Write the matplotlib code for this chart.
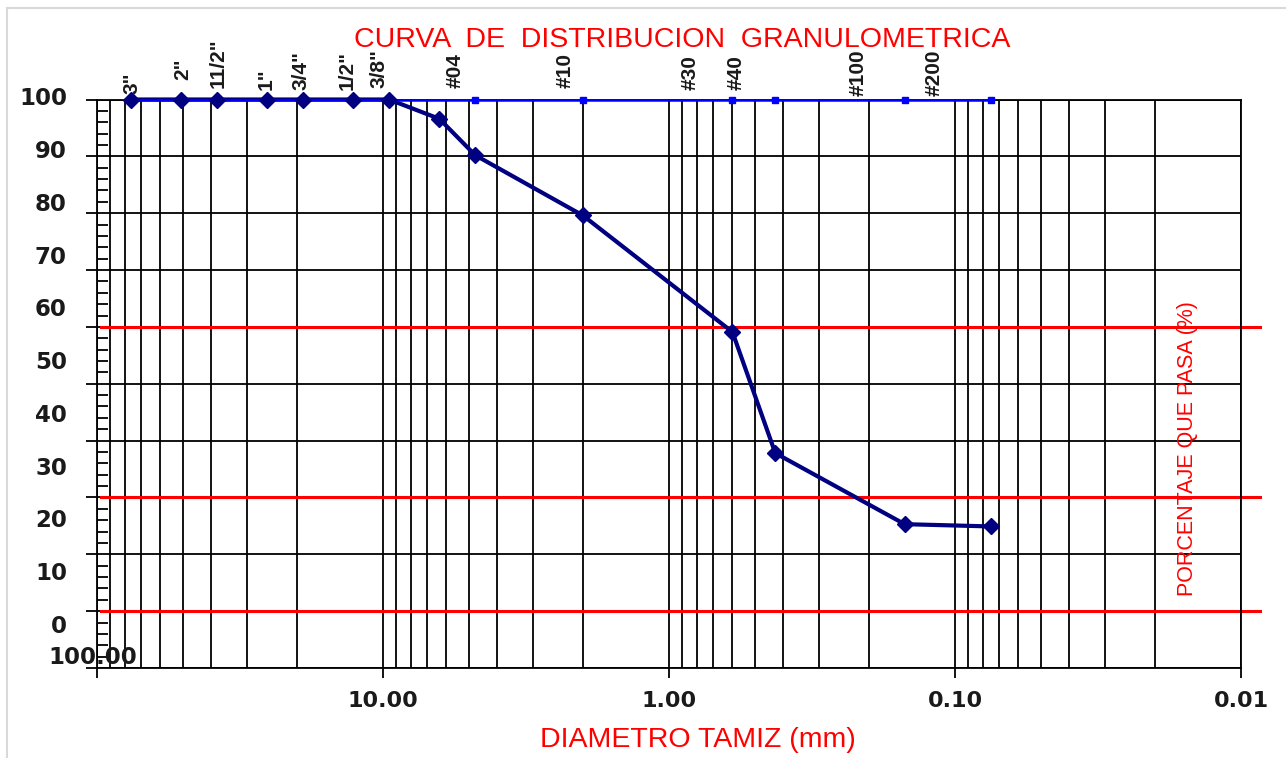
import matplotlib
matplotlib.use("Agg")
import matplotlib.pyplot as plt
from matplotlib import font_manager as fm
from matplotlib.lines import Line2D
from matplotlib.transforms import blended_transform_factory
from matplotlib.ticker import FixedLocator, LogLocator, MultipleLocator, NullFormatter, FixedFormatter

# ---------------- data ----------------
sieve_mm = [76.2, 50.8, 38.1, 25.4, 19.05, 12.7, 9.525, 6.35, 4.76, 2.00, 0.600, 0.425, 0.150, 0.075]
pct_pass = [100, 100, 100, 100, 100, 100, 100, 96.6, 90.2, 79.6, 59.1, 37.8, 25.3, 24.9]

ref_mm = [76.2, 50.8, 38.1, 25.4, 19.05, 12.7, 9.525, 4.76, 2.00, 0.600, 0.425, 0.150, 0.075]
ref_pct = [100] * len(ref_mm)

sieve_labels = ['3"', '2"', '11/2"', '1"', '3/4"', '1/2"', '3/8"',
                '#04', '#10', '#30', '#40', '#100', '#200']
sieve_label_mm = [75.7, 50.0, 37.7, 25.6, 19.3, 13.4, 10.3,
                  5.61, 2.30, 0.846, 0.584, 0.219, 0.118]
# bottom of each rotated label, in pixels above the top of the plot
sieve_label_lift = [6, 19, 11, 9, 9, 9, 11, 11, 11, 9, 10, 4, 4]

y_labels = ['100', '90', '80', '70', '60', '50', '40', '30', '20', '10', '0']
y_label_vals = [100, 90, 80, 70, 60, 50, 40, 30, 20, 10, 0]

x_ticks = [100, 10, 1, 0.1, 0.01]
x_tick_labels = ['', '10.00', '1.00', '0.10', '0.01']

guide_pct = [60, 30, 10]

# ---------------- fonts ----------------
names = {f.name for f in fm.fontManager.ttflist}
if 'Liberation Sans Narrow' in names:
    NARROW = 'Liberation Sans Narrow'
    top_fs, side_fs = 18.5, 18.5
else:
    NARROW = 'Liberation Sans'
    top_fs, side_fs = 15, 15.5

W, H = 1286, 758
fig = plt.figure(figsize=(W / 100, H / 100), dpi=100)
fig.patch.set_facecolor('white')

# light grey chart-area border
fig.add_artist(Line2D([7 / W, 7 / W], [0, 1 - 8 / H], color='#d9d9d9', lw=1.5))
fig.add_artist(Line2D([7 / W, 1], [1 - 8 / H, 1 - 8 / H], color='#d9d9d9', lw=1.5))

L, R, T, B = 97, 1241, 99.5, 668
ax = fig.add_axes([L / W, 1 - B / H, (R - L) / W, (B - T) / H])
ax.set_xscale('log')
ax.set_xlim(100, 0.01)
ax.set_ylim(0, 100)

for s in ax.spines.values():
    s.set_color('black')
    s.set_linewidth(1.3)

# x ticks
ax.xaxis.set_major_locator(FixedLocator(x_ticks))
ax.xaxis.set_major_formatter(FixedFormatter(x_tick_labels))
ax.xaxis.set_minor_locator(LogLocator(base=10, subs=range(2, 10), numticks=20))
ax.xaxis.set_minor_formatter(NullFormatter())
ax.tick_params(axis='x', which='major', direction='out', length=7.5, width=1.3,
               pad=9, labelsize=16, colors='black')
ax.tick_params(axis='x', which='minor', length=0)
for lab in ax.get_xticklabels():
    lab.set_fontweight('bold')
    lab.set_fontfamily('DejaVu Sans')
    lab.set_color('#1a1a1a')

# y ticks
ax.yaxis.set_major_locator(MultipleLocator(10))
ax.yaxis.set_minor_locator(MultipleLocator(2))
ax.tick_params(axis='y', which='major', direction='out', length=8, width=1.3, labelleft=False)
ax.tick_params(axis='y', which='minor', direction='in', length=8, width=1.3)

ax.grid(which='both', axis='x', color='black', lw=1.3)
ax.grid(which='major', axis='y', color='black', lw=1.3)
ax.set_axisbelow(True)

# y labels (placed as in the original, evenly spread)
ytr = blended_transform_factory(ax.transAxes, ax.transData)
for lab, v in zip(y_labels, y_label_vals):
    ax.text(-(L - 67) / (R - L), 7.3 + 0.928 * v, lab, transform=ytr, ha='right', va='center',
            fontsize=16.5, fontweight='bold', family='DejaVu Sans', color='#1a1a1a', clip_on=False)

# stray "100.00" label
fig.text(93 / W, 1 - 657 / H, '100.00', ha='center', va='center', fontsize=16.5,
         fontweight='bold', family='DejaVu Sans', color='#1a1a1a')

# red guide lines
for v in guide_pct:
    ax.plot([(101 - L) / (R - L), (1260 - L) / (R - L)], [v, v], transform=ytr,
            color='#ff0000', lw=2.2, clip_on=False, zorder=2)

# data series
ax.plot(sieve_mm, pct_pass, color='#000080', lw=3, zorder=3, clip_on=False)
ax.plot(ref_mm, ref_pct, color='#0000ff', lw=1.8, marker='s', ms=5,
        markerfacecolor='#0000ff', markeredgecolor='#0000ff', zorder=4, clip_on=False)
ax.plot(sieve_mm, pct_pass, ls='none', marker='D', ms=8, color='#000080',
        markeredgecolor='#000080', zorder=5, clip_on=False)

# sieve labels on top
for lab, xm, lift in zip(sieve_labels, sieve_label_mm, sieve_label_lift):
    ax.annotate(lab, xy=(xm, 1), xycoords=('data', 'axes fraction'),
                xytext=(0, lift * 0.72), textcoords='offset points',
                rotation=90, ha='center', va='bottom', fontsize=top_fs,
                fontweight='bold', family=NARROW, color='#1a1a1a', annotation_clip=False)

# titles
fig.text(682 / W, 1 - 40 / H, 'CURVA  DE  DISTRIBUCION  GRANULOMETRICA', ha='center', va='center',
         fontsize=20.5, family='Liberation Sans', color='#ff0000')
fig.text(698 / W, 1 - 740 / H, 'DIAMETRO TAMIZ (mm)', ha='center', va='center',
         fontsize=20.5, family='Liberation Sans', color='#ff0000')
fig.text(1188 / W, 1 - 449 / H, 'PORCENTAJE QUE PASA (%)', ha='center', va='center', rotation=90,
         fontsize=side_fs, family=NARROW, color='#ff0000')

fig.savefig('out.png', dpi=100, facecolor='white')
